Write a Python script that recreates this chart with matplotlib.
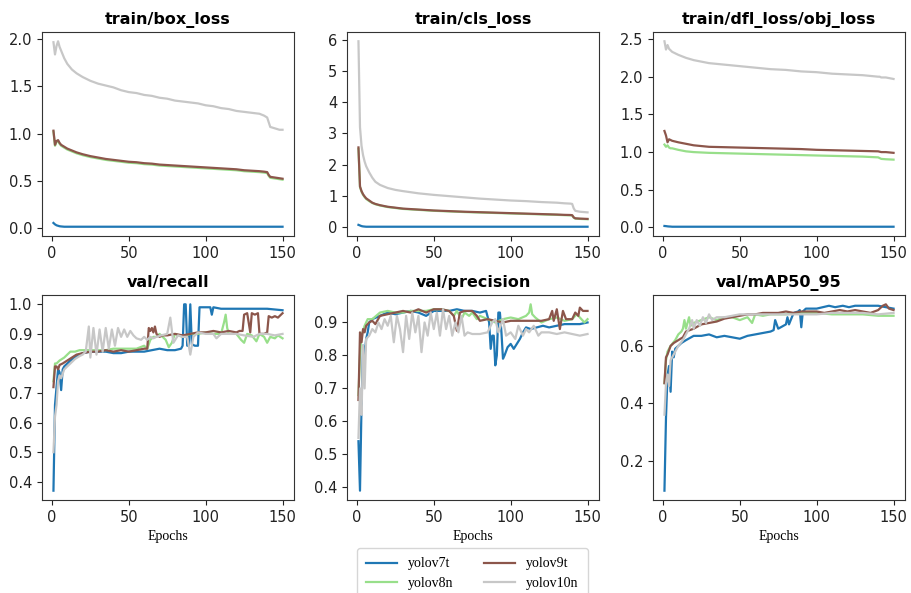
import matplotlib
matplotlib.use("Agg")
import matplotlib.pyplot as plt
from matplotlib.ticker import MultipleLocator
from matplotlib.lines import Line2D

models = ["yolov7t", "yolov8n", "yolov9t", "yolov10n"]
colors = ["#1f77b4", "#98df8a", "#8c564b", "#c7c7c7"]

# ---------------- train/box_loss ----------------
box_ep = [1,2,3,4,5,6,8,10,13,16,20,25,30,35,40,45,50,55,60,65,70,75,80,85,90,95,100,105,110,115,
          120,125,130,135,138,140,141,142,144,146,148,150]
box_v7 = [0.05,0.035,0.025,0.02,0.015,0.013] + [0.01] * 36
box_v8 = [1.02,0.87,0.91,0.92,0.89,0.87,0.85,0.83,0.81,0.79, 0.77,0.75,0.735,0.72,0.71,0.70,0.69,0.685,0.675,0.67,
          0.66,0.655,0.65,0.645,0.64,0.635,0.63,0.625,0.62,0.615, 0.61,0.60,0.595,0.59,0.585,0.58,0.55,0.53,0.525,0.52,
          0.515,0.51]
box_v9 = [1.03,0.88,0.92,0.93,0.90,0.88,0.86,0.84,0.82,0.80, 0.78,0.76,0.745,0.73,0.72,0.71,0.70,0.695,0.685,0.68,
          0.67,0.665,0.66,0.655,0.65,0.645,0.64,0.635,0.63,0.625, 0.62,0.61,0.605,0.60,0.595,0.59,0.56,0.54,0.535,0.53,
          0.525,0.52]
box_v10 = [1.97,1.84,1.93,1.98,1.92,1.88,1.80,1.74,1.68,1.64, 1.60,1.56,1.53,1.51,1.49,1.46,1.44,1.43,1.41,1.40,
           1.38,1.37,1.35,1.34,1.33,1.32,1.30,1.29,1.27,1.26, 1.24,1.23,1.22,1.21,1.19,1.17,1.12,1.07,1.06,1.05,
           1.04,1.04]

# ---------------- train/cls_loss ----------------
cls_ep = [1,2,3,4,5,6,8,10,12,15,20,25,30,40,50,60,70,80,90,100,110,120,130,135,139,140,141,142,145,150]
cls_v7 = [0.07,0.05,0.03,0.02,0.015] + [0.01] * 25
cls_v8 = [2.50,1.28,1.13,1.03,0.96,0.90,0.83,0.77,0.73,0.69, 0.64,0.61,0.58,0.55,0.52,0.50,0.48,0.465,0.45,0.435,
          0.42,0.405,0.39,0.38,0.375,0.37,0.30,0.27,0.26,0.25]
cls_v9 = [2.55,1.30,1.15,1.05,0.98,0.92,0.85,0.78,0.74,0.70, 0.65,0.62,0.59,0.56,0.53,0.51,0.49,0.475,0.46,0.445,
          0.43,0.415,0.40,0.39,0.385,0.38,0.31,0.28,0.27,0.26]
cls_v10 = [5.95,3.20,2.60,2.30,2.10,1.95,1.75,1.58,1.45,1.35, 1.25,1.19,1.15,1.08,1.03,0.99,0.95,0.91,0.88,0.85,
           0.83,0.80,0.78,0.76,0.75,0.74,0.60,0.52,0.49,0.47]

# ---------------- train/dfl_loss/obj_loss ----------------
dfl_ep = [1,2,3,4,5,6,8,10,15,20,25,30,40,50,60,70,80,90,100,110,120,130,140,141,142,145,150]
dfl_v7 = [0.02,0.018,0.015,0.013,0.012] + [0.01] * 22
dfl_v8 = [1.10,1.07,1.09,1.06,1.05,1.05,1.04,1.03,1.01,1.00, 0.995,0.99,0.985,0.98,0.975,0.97,0.965,0.96,0.955,0.95,
          0.945,0.94,0.93,0.92,0.91,0.905,0.90]
dfl_v9 = [1.28,1.22,1.13,1.17,1.16,1.15,1.14,1.13,1.11,1.09, 1.08,1.07,1.065,1.06,1.055,1.05,1.045,1.04,1.03,1.025,
          1.02,1.015,1.01,1.005,1.00,1.00,0.99]
dfl_v10 = [2.47,2.36,2.42,2.37,2.35,2.33,2.31,2.29,2.25,2.22, 2.20,2.18,2.16,2.14,2.12,2.10,2.09,2.07,2.06,2.04,
           2.03,2.02,2.00,2.00,1.99,1.99,1.97]

# ---------------- val/recall ----------------
rec_v7_ep = [1,2,3,4,5,6,7,8,10,12, 15,18,20,25,30,35,40,45,50,55, 60,65,70,75,80,84,85,86,87,88,
             89,90,91,93,95,96,100,103,104,105, 110,120,130,140,150]
rec_v7 = [0.37,0.66,0.72,0.78,0.77,0.71,0.78,0.79,0.80,0.81, 0.82,0.83,0.835,0.84,0.84,0.84,0.835,0.835,0.84,0.84,
          0.84,0.845,0.85,0.845,0.845,0.85,0.86,1.0,1.0,0.86, 0.86,1.0,0.865,0.86,0.86,0.99,0.99,0.99,0.965,0.99,
          0.985,0.985,0.985,0.985,0.98]
rec_v8_ep = [1,2,3,5,8,10,12,15,18,20, 25,30,35,40,45,50,55,60,62,64, 66,68,70,72,74,76,78,80,85,90,
             95,100,105,110,112,113,114,115,120,123, 125,127,130,133,135,138,140,142,145,147, 150]
rec_v8 = [0.74,0.80,0.80,0.81,0.82,0.83,0.84,0.84,0.845,0.845, 0.845,0.845,0.845,0.85,0.85,0.85,0.85,0.86,0.85,0.88,
          0.89,0.89,0.90,0.89,0.88,0.855,0.87,0.90,0.89,0.90, 0.90,0.905,0.90,0.90,0.94,0.965,0.92,0.90,0.90,0.88,
          0.87,0.90,0.895,0.875,0.90,0.89,0.87,0.89,0.885,0.895, 0.885]
rec_v9_ep = [1,2,3,4,5,7,10,13,16,20, 25,30,35,40,45,50,55,60,62,63, 64,65,66,67,68,70,72,75,80,85,
             90,95,100,105,110,115,120,122,124,125, 127,129,130,132,134,135,138,140,141,143, 145,147,150]
rec_v9 = [0.72,0.79,0.79,0.78,0.795,0.80,0.81,0.82,0.83,0.835, 0.84,0.84,0.845,0.84,0.845,0.84,0.845,0.85,0.85,0.92,
          0.91,0.92,0.905,0.925,0.90,0.89,0.895,0.895,0.90,0.895, 0.90,0.905,0.905,0.91,0.905,0.91,0.905,0.91,0.91,0.965,
          0.97,0.905,0.97,0.965,0.97,0.90,0.90,0.905,0.96,0.955, 0.96,0.955,0.97]
rec_v10_ep = [1,2,3,4,5,6,8,10,12,15, 18,20,22,24,25,27,29,31,33,35, 37,39,41,43,45,47,49,51,53,55,
              58,60,62,64,66,68,71,75,77,79, 82,85,88,90,92,95,100,105,107,110, 115,120,125,131,135,140,145,150]
rec_v10 = [0.50,0.62,0.66,0.74,0.76,0.75,0.78,0.79,0.80,0.815, 0.825,0.83,0.84,0.925,0.82,0.92,0.83,0.915,0.84,0.92,
           0.85,0.915,0.86,0.92,0.89,0.915,0.89,0.91,0.895,0.885, 0.88,0.89,0.88,0.89,0.885,0.89,0.895,0.90,0.955,0.87,
           0.895,0.89,0.89,0.83,0.89,0.905,0.90,0.90,0.885,0.90, 0.90,0.90,0.895,0.89,0.90,0.90,0.895,0.90]

# ---------------- val/precision ----------------
pre_v7_ep = [1,2,3,4,5,6,7,8,10,15, 20,25,30,35,40,45,50,55,60,65, 70,75,80,84,86,87,88,89,90,91,
             92,93,94,95,96,98,100,102,104,106, 108,110,113,117,121,125,130,135,140,145, 150]
pre_v7 = [0.54,0.39,0.65,0.83,0.80,0.85,0.87,0.90,0.91,0.92, 0.93,0.925,0.93,0.935,0.93,0.92,0.935,0.935,0.935,0.94,
          0.935,0.935,0.93,0.935,0.90,0.82,0.86,0.86,0.77,0.80, 0.93,0.93,0.87,0.79,0.80,0.825,0.835,0.82,0.835,0.85,
          0.87,0.885,0.88,0.885,0.89,0.885,0.89,0.895,0.895,0.895, 0.90]
pre_v8_ep = [1,2,3,5,7,10,15,20,25,30, 35,40,45,50,55,60,63,65,68,70, 73,75,78,80,85,90,95,100,105,110,
             112,113,114,116,120,125,130,135,140,143, 145,148,150]
pre_v8 = [0.68,0.80,0.86,0.89,0.91,0.91,0.93,0.935,0.93,0.93, 0.935,0.935,0.935,0.94,0.94,0.935,0.92,0.935,0.91,0.93,
          0.92,0.93,0.91,0.92,0.91,0.90,0.91,0.915,0.91,0.92, 0.93,0.955,0.925,0.915,0.90,0.91,0.915,0.905,0.91,0.925,
          0.915,0.90,0.91]
pre_v9_ep = [1,2,3,4,5,6,8,10,12,15, 20,25,30,35,40,45,50,55,60,63, 65,67,70,75,78,80,85,90,95,100,
             105,110,115,120,125,127,128,130,132,134, 136,140,142,144,145,147,150]
pre_v9 = [0.665,0.87,0.84,0.88,0.87,0.89,0.90,0.905,0.895,0.92, 0.925,0.93,0.935,0.93,0.94,0.93,0.94,0.94,0.935,0.92,
          0.875,0.93,0.935,0.935,0.92,0.905,0.91,0.905,0.90,0.905, 0.905,0.905,0.905,0.905,0.91,0.935,0.905,0.94,0.88,0.935,
          0.91,0.91,0.93,0.92,0.945,0.935,0.935]
pre_v10_ep = [1,2,3,4,5,6,8,10,12,14, 16,18,20,22,24,26,28,30,32,34, 36,38,40,42,44,46,48,50,52,54,
              56,58,60,62,64,66,68,70,72,75, 80,85,88,90,92,95,97,100,103,105, 108,110,112,115,118,120,125,130,135,140,
              145,150]
pre_v10 = [0.55,0.70,0.62,0.83,0.70,0.85,0.86,0.88,0.87,0.90, 0.88,0.91,0.89,0.92,0.84,0.92,0.88,0.81,0.92,0.85,
           0.93,0.87,0.92,0.81,0.90,0.86,0.93,0.88,0.93,0.86, 0.94,0.88,0.92,0.86,0.90,0.87,0.92,0.86,0.87,0.865,
           0.865,0.87,0.90,0.91,0.87,0.91,0.86,0.87,0.85,0.89, 0.86,0.88,0.87,0.89,0.86,0.87,0.87,0.865,0.87,0.865,
           0.86,0.865]

# ---------------- val/mAP50_95 ----------------
map_v7_ep = [1,2,3,4,5,6,7,8,10,12, 15,20,25,30,35,40,45,50,55,60, 65,70,72,73,75,80,81,82,85,88,
             89,90,91,93,95,100,104,108,112,117, 121,125,132,140,145,150]
map_v7 = [0.095,0.35,0.50,0.53,0.44,0.58,0.56,0.59,0.60,0.61, 0.62,0.635,0.635,0.64,0.63,0.635,0.63,0.625,0.635,0.64,
          0.645,0.65,0.655,0.69,0.66,0.675,0.70,0.675,0.715,0.72, 0.725,0.665,0.72,0.73,0.73,0.73,0.735,0.74,0.735,0.74,
          0.735,0.74,0.74,0.74,0.735,0.73]
map_v8_ep = [1,2,3,5,8,10,12,13,14,15, 17,18,20,25,30,35,40,45,50,55, 58,60,65,70,80,90,100,110,120,130, 140,150]
map_v8 = [0.47,0.55,0.58,0.60,0.62,0.64,0.65,0.66,0.69,0.66, 0.70,0.67,0.68,0.69,0.70,0.69,0.70,0.70,0.69,0.70,
          0.68,0.71,0.705,0.71,0.71,0.715,0.715,0.71,0.71,0.71, 0.705,0.705]
map_v9_ep = [1,2,3,5,7,10,13,15,20,25, 30,35,40,45,50,55,60,65,70,75, 80,85,90,95,100,105,110,115,120,125,
             130,135,140,143,145,147,150]
map_v9 = [0.47,0.56,0.57,0.60,0.61,0.62,0.63,0.65,0.66,0.675, 0.68,0.685,0.695,0.70,0.705,0.71,0.71,0.715,0.715,0.715,
          0.72,0.715,0.72,0.72,0.72,0.715,0.72,0.725,0.72,0.725, 0.72,0.715,0.725,0.74,0.745,0.73,0.725]
map_v10_ep = [1,2,3,4,5,7,10,13,15,17, 19,20,22,24,26,28,30,32,35,40, 45,50,60,70,80,90,100,110,120,130, 140,150]
map_v10 = [0.36,0.47,0.50,0.46,0.55,0.57,0.60,0.62,0.64,0.66, 0.69,0.66,0.69,0.67,0.70,0.68,0.71,0.69,0.70,0.70,
           0.705,0.71,0.71,0.71,0.71,0.71,0.71,0.715,0.715,0.715, 0.71,0.715]

panels = [
    ("train/box_loss", [(box_ep, box_v7), (box_ep, box_v8), (box_ep, box_v9), (box_ep, box_v10)], 0.5),
    ("train/cls_loss", [(cls_ep, cls_v7), (cls_ep, cls_v8), (cls_ep, cls_v9), (cls_ep, cls_v10)], 1),
    ("train/dfl_loss/obj_loss", [(dfl_ep, dfl_v7), (dfl_ep, dfl_v8), (dfl_ep, dfl_v9), (dfl_ep, dfl_v10)], 0.5),
    ("val/recall", [(rec_v7_ep, rec_v7), (rec_v8_ep, rec_v8), (rec_v9_ep, rec_v9), (rec_v10_ep, rec_v10)], 0.1),
    ("val/precision", [(pre_v7_ep, pre_v7), (pre_v8_ep, pre_v8), (pre_v9_ep, pre_v9), (pre_v10_ep, pre_v10)], 0.1),
    ("val/mAP50_95", [(map_v7_ep, map_v7), (map_v8_ep, map_v8), (map_v9_ep, map_v9), (map_v10_ep, map_v10)], 0.2),
]

W, H = 912, 593
fig = plt.figure(figsize=(W / 100, H / 100), dpi=100)

lefts = [42, 347, 653]
width = 252
rows = [(32, 236), (295, 500)]
serif = ["Liberation Serif", "DejaVu Serif"]

for i, (title, series, step) in enumerate(panels):
    r, c = divmod(i, 3)
    top, bot = rows[r]
    ax = fig.add_axes([lefts[c] / W, 1 - bot / H, width / W, (bot - top) / H])
    for (xs, ys), col in zip(series, colors):
        ax.plot(xs, ys, color=col, lw=1.6)
    ax.set_title(title, fontsize=11.5, fontweight="bold")
    ax.yaxis.set_major_locator(MultipleLocator(step))
    ax.xaxis.set_major_locator(MultipleLocator(50))
    ax.tick_params(labelsize=10.5, colors="#222222")
    for sp in ax.spines.values():
        sp.set_color("#333333")
    if r == 1:
        ax.set_xlabel("Epochs", family=serif, fontsize=10)

handles = [Line2D([], [], color=col, lw=1.6) for col in colors]
fig.legend(handles, models, ncol=2, loc="upper center", bbox_to_anchor=(0.518, 0.088),
           prop={"family": serif, "size": 10}, columnspacing=2.2, handlelength=2.2,
           borderpad=0.7, labelspacing=0.45)

fig.savefig("out.png", dpi=100)
